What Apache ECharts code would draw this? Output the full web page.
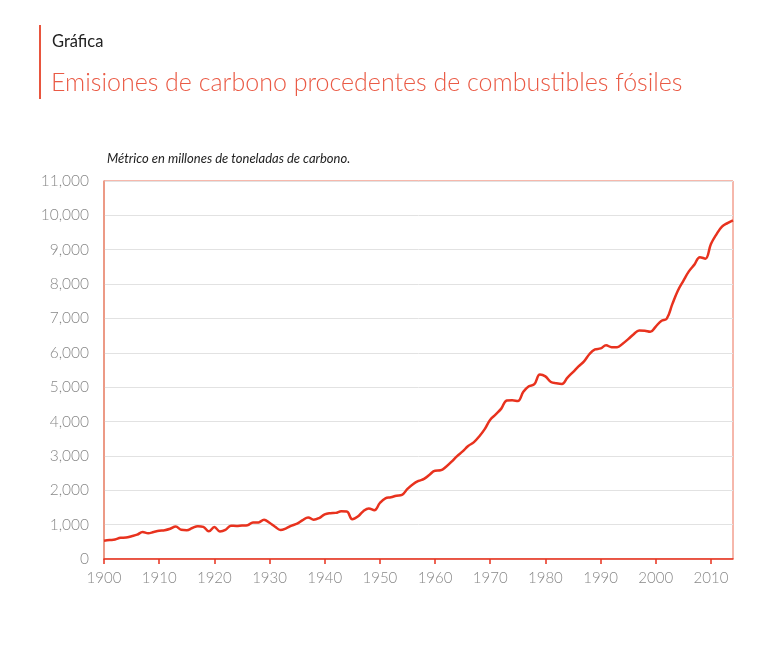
<!DOCTYPE html>
<html><head><meta charset="utf-8">
<script src="https://cdn.jsdelivr.net/npm/echarts@6/dist/echarts.min.js"></script>
<style>html,body{margin:0;padding:0;background:#fff}#c{width:765px;height:651px}</style>
</head><body><div id="c"></div>
<script>
const years = [];
for (let y = 1900; y <= 2014; y++) years.push(y);
const emissions = [
 534,552,566,617,624,663,707,784,750,785,
 819,836,879,943,850,838,901,955,936,806,
 932,803,845,970,963,975,983,1062,1065,1145,
 1053,940,847,893,973,1027,1130,1209,1142,1192,
 1299,1334,1342,1391,1383,1160,1238,1392,1469,1419,
 1630,1767,1795,1841,1865,2042,2177,2270,2330,2454,
 2569,2580,2686,2833,2995,3130,3288,3393,3566,3780,
 4053,4208,4376,4614,4623,4596,4864,5026,5087,5369,
 5315,5152,5113,5094,5280,5439,5607,5752,5965,6097,
 6127,6217,6164,6162,6266,6398,6542,6651,6643,6610,
 6765,6927,6996,7416,7807,8093,8370,8566,8783,8740,
 9167,9449,9671,9776,9855
];
const titleLabel = 'Gráfica';
const titleText = 'Emisiones de carbono procedentes de combustibles fósiles';
const unitText = 'Métrico en millones de toneladas de carbono.';

const chart = echarts.init(document.getElementById('c'));
const FONT = 'Lato, "Open Sans", sans-serif';
chart.setOption({
  animation: false,
  backgroundColor: '#fff',
  graphic: [
    {type:'rect', left:39, top:25, shape:{width:2, height:74}, style:{fill:'#e8553e'}},
    {type:'text', left:52, top:33, style:{text:titleLabel, fill:'#222', font:'400 16.5px ' + FONT}},
    {type:'text', left:51, top:70, style:{text:titleText, fill:'#ea5a45', font:'300 25px ' + FONT}},
    {type:'text', left:107, top:152, style:{text:unitText, fill:'#222', font:'italic 400 13px ' + FONT}}
  ],
  grid: {left:104, right:32, top:181, bottom:92, show:true, borderColor:'#ec7058', borderWidth:1, backgroundColor:'transparent'},
  xAxis: {
    type:'value', min:1900, max:2014, interval:10,
    axisLine:{show:true, lineStyle:{color:'#e8321e', width:1.5}},
    axisTick:{show:true, length:5, lineStyle:{color:'#e8321e', width:1.5}},
    axisLabel:{color:'#888', fontSize:15, fontFamily:FONT, fontWeight:300, margin:12, showMaxLabel:false,
      formatter: v => String(v)},
    splitLine:{show:false}
  },
  yAxis: {
    type:'value', min:0, max:11000, interval:1000,
    axisLine:{show:true, lineStyle:{color:'#e8907a', width:1.5}},
    axisTick:{show:false},
    axisLabel:{color:'#888', fontSize:15.5, fontFamily:FONT, fontWeight:300, margin:15,
      formatter: v => v.toLocaleString('en-US')},
    splitLine:{show:true, lineStyle:{color:'#e2e2e2', width:1}}
  },
  series: [{
    type:'line', data: years.map((y,i)=>[y, emissions[i]]),
    smooth:0.4, showSymbol:false, symbol:'none',
    lineStyle:{color:'#e8321e', width:2.5}
  }]
});
</script></body></html>
